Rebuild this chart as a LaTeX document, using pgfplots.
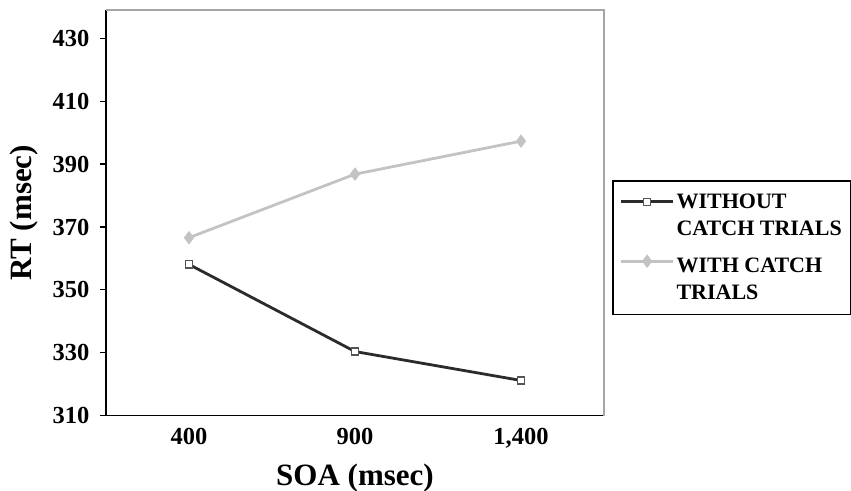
\documentclass[border=0pt]{standalone}
\usepackage{fontspec}
\setmainfont{Liberation Serif}
\usepackage{pgfplots}
\pgfplotsset{compat=1.18}
\definecolor{darkline}{HTML}{2B2B2B}
\definecolor{lightline}{HTML}{C3C3C3}
\begin{document}
\begin{tikzpicture}
\begin{axis}[
  scale only axis,
  width=498pt, height=405.7pt,
  xmin=-0.5, xmax=2.5,
  ymin=310, ymax=439,
  axis x line*=bottom, axis y line*=left,
  axis line style={black, line width=1.2pt},
  xtick={0,1,2},
  xticklabels={400,900,{1,400}},
  major x tick style={draw=none},
  extra x ticks={-0.5,0.5,1.5,2.5},
  extra x tick labels={},
  extra x tick style={major tick length=8pt, tick align=outside, tick style={black, line width=1.2pt}},
  ytick={310,330,350,370,390,410,430},
  y tick style={black, line width=1.2pt},
  major tick length=6pt,
  tick align=outside,
  /pgf/number format/assume math mode=true,
  ticklabel style={font=\fontsize{24.5}{26}\selectfont\bfseries},
  xticklabel style={yshift=-3pt},
  yticklabel style={xshift=-7pt},
  xlabel={SOA (msec)},
  ylabel={RT (msec)},
  label style={font=\fontsize{31}{33}\selectfont\bfseries},
  xlabel style={yshift=5pt},
  ylabel style={yshift=8pt},
  clip=false,
  legend style={at={(rel axis cs:1.016,0.581)}, anchor=north west, draw=black, line width=1.6pt,
    font=\fontsize{22}{25}\selectfont\bfseries, row sep=7pt, inner xsep=7pt, inner ysep=11pt},
  legend cell align=left,
  legend image code/.code={\draw[mark repeat=2,mark phase=2] plot coordinates {(0pt,0pt) (26pt,0pt) (52pt,0pt)};},
]
\addplot[darkline, line width=2.8pt, mark=square*, mark size=3.6pt,
  mark options={fill=white, draw=darkline!80, line width=1.3pt}]
  coordinates {(0,358.1) (1,330.4) (2,321.2)};
\addlegendentry{WITHOUT}
\addlegendimage{empty legend}
\addlegendentry{CATCH TRIALS}
\addplot[lightline, line width=2.8pt, mark=diamond*, mark size=4.5pt,
  mark options={fill=lightline, draw=lightline}]
  coordinates {(0,366.6) (1,386.8) (2,397.3)};
\addlegendentry{\rule{0pt}{25pt}WITH CATCH}
\addlegendimage{empty legend}
\addlegendentry{TRIALS}
\draw[gray!70, line width=1.2pt] (rel axis cs:0,1) -- (rel axis cs:1,1) -- (rel axis cs:1,0);
\end{axis}
\pgfresetboundingbox
\path ([xshift=-106pt,yshift=-75.3pt]current axis.south west) rectangle ([xshift=247pt,yshift=10pt]current axis.north east);
\end{tikzpicture}
\end{document}
